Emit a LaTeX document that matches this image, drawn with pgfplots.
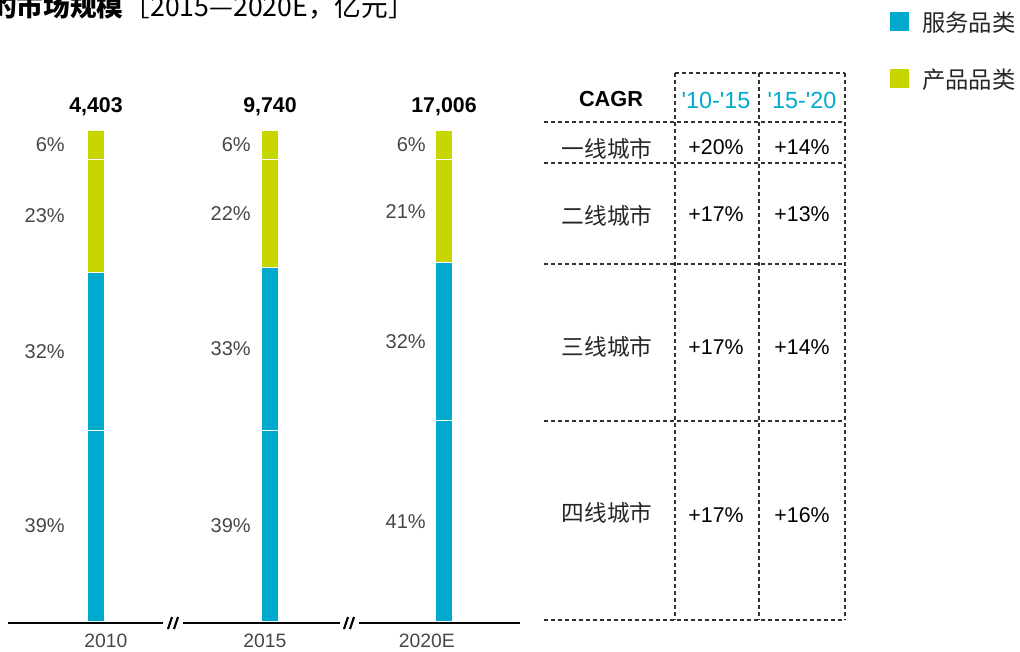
\documentclass[border=0pt]{standalone}
\usepackage{pgfplots}
\pgfplotsset{compat=1.18}
\usepackage{fontspec}
\setmainfont{Liberation Sans}
\newfontfamily\cjk{Noto Sans CJK SC}
\definecolor{cblue}{HTML}{00AACE}
\definecolor{cgreen}{HTML}{C8D600}
\newcommand\fsz[1]{\fontsize{#1}{#1}\selectfont}
\tikzset{
 segl/.style={font=\fsz{15}, text=black!72, anchor=east, inner sep=0pt},
 tot/.style={font=\fsz{16}\bfseries, yshift=17.25pt},
}
\begin{document}
\begin{tikzpicture}
\begin{axis}[
 at={(6.75pt,-466.5pt)}, anchor=south west,
 scale only axis, width=391.5pt, height=369pt,
 xmin=-0.5, xmax=2.5, ymin=0, ymax=100,
 ybar stacked, bar width=12.6pt,
 axis line style={draw=none}, ytick=\empty,
 xtick={0.057,0.971,1.902}, xticklabels={2010,2015,2020E},
 major tick length=0pt,
 xticklabel style={font=\fsz{14.5}, text=black!72, inner sep=0pt, text depth=0pt, yshift=-8.5pt},
 clip=false,
 every axis plot/.append style={draw=white, line width=0.8pt},
]
\addplot[fill=cblue] coordinates {(0,39) (1,39) (2,41)};
\addplot[fill=cblue] coordinates {(0,32) (1,33) (2,32)};
\addplot[fill=cgreen] coordinates {(0,23) (1,22) (2,21)};
\addplot[fill=cgreen] coordinates {(0,6) (1,6) (2,6)};
\node[tot] at (axis cs:0,100) {4,403};
\node[tot] at (axis cs:1,100) {9,740};
\node[tot] at (axis cs:2,100) {17,006};
\node[segl, xshift=-23.25pt] at (axis cs:0,19.5) {39\%};
\node[segl, xshift=-23.25pt] at (axis cs:0,55) {32\%};
\node[segl, xshift=-23.25pt] at (axis cs:0,82.5) {23\%};
\node[segl, xshift=-23.25pt] at (axis cs:0,97) {6\%};
\node[segl, xshift=-14.25pt] at (axis cs:1,19.5) {39\%};
\node[segl, xshift=-14.25pt] at (axis cs:1,55.5) {33\%};
\node[segl, xshift=-14.25pt] at (axis cs:1,83) {22\%};
\node[segl, xshift=-14.25pt] at (axis cs:1,97) {6\%};
\node[segl, xshift=-13.5pt] at (axis cs:2,20.5) {41\%};
\node[segl, xshift=-13.5pt] at (axis cs:2,57) {32\%};
\node[segl, xshift=-13.5pt] at (axis cs:2,83.5) {21\%};
\node[segl, xshift=-13.5pt] at (axis cs:2,97) {6\%};
\end{axis}
\begin{scope}[x=0.75pt,y=-0.75pt]
\draw[line width=2pt] (8,623) -- (163,623);
\draw[line width=2pt] (183,623) -- (340,623);
\draw[line width=2pt] (359,623) -- (520,623);
\draw[line width=1.6pt] (168,629) -- (172,617);
\draw[line width=1.6pt] (174,629) -- (178,617);
\draw[line width=1.6pt] (344,629) -- (348,617);
\draw[line width=1.6pt] (350,629) -- (354,617);
\node[anchor=base west, inner sep=0pt, font=\cjk\fsz{20}] at (-10,16) {\bfseries 的市场规模\mdseries［2015—2020E，亿元］};
\fill[cblue] (890,12) rectangle (909,31);
\fill[cgreen] (890,69) rectangle (909,88);
\node[anchor=west, inner sep=0pt, font=\cjk\fsz{17.5}, text=black!85] at (922,23) {服务品类};
\node[anchor=west, inner sep=0pt, font=\cjk\fsz{17.5}, text=black!85] at (922,80) {产品品类};
\begin{scope}[black!80, line width=0.9pt, dash pattern=on 3pt off 2.25pt]
\draw (675,73) -- (845,73);
\draw (544,122) -- (845,122);
\draw (544,163) -- (845,163);
\draw (544,264) -- (845,264);
\draw (544,421) -- (845,421);
\draw (544,620) -- (845,620);
\draw (675,73) -- (675,620);
\draw (759,73) -- (759,620);
\draw (845,73) -- (845,620);
\end{scope}
\node[font=\fsz{16.3}\bfseries] at (611,99) {CAGR};
\node[font=\fsz{17.5}, text=cblue] at (716,100) {\textquotesingle10-\textquotesingle15};
\node[font=\fsz{17.5}, text=cblue] at (802,100) {\textquotesingle15-\textquotesingle20};
\node[font=\cjk\fsz{17}, text=black!85] at (607,149) {一线城市};
\node[font=\cjk\fsz{17}, text=black!85] at (607,216) {二线城市};
\node[font=\cjk\fsz{17}, text=black!85] at (607,347) {三线城市};
\node[font=\cjk\fsz{17}, text=black!85] at (607,513) {四线城市};
\node[font=\fsz{16}] at (716,147) {+20\%};
\node[font=\fsz{16}] at (802,147) {+14\%};
\node[font=\fsz{16}] at (716,214) {+17\%};
\node[font=\fsz{16}] at (802,214) {+13\%};
\node[font=\fsz{16}] at (716,347) {+17\%};
\node[font=\fsz{16}] at (802,347) {+14\%};
\node[font=\fsz{16}] at (716,515) {+17\%};
\node[font=\fsz{16}] at (802,515) {+16\%};
\pgfresetboundingbox
\useasboundingbox (0,0) rectangle (1020,651);
\end{scope}
\end{tikzpicture}
\end{document}
